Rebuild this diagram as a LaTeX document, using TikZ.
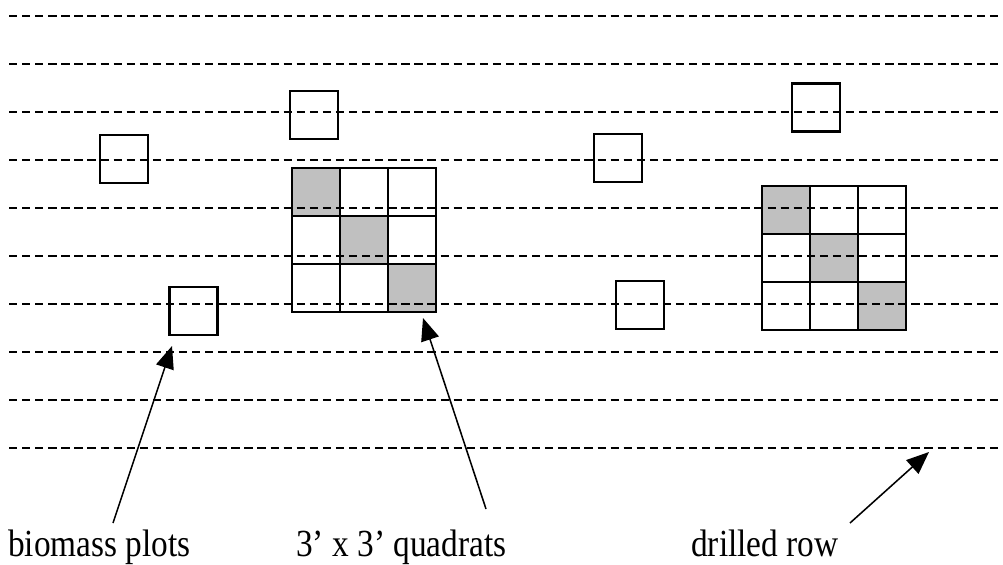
\documentclass[tikz,border=0pt]{standalone}
\usepackage{fontspec}
\setmainfont{Liberation Serif}
\usetikzlibrary{positioning, arrows.meta}
\definecolor{cellgray}{RGB}{192,192,192}

\begin{document}
\begin{tikzpicture}[x=0.025cm, y=-0.025cm,
    row/.style={line width=1.5pt, dash pattern=on 5.9pt off 3.4pt},
    plot/.style={draw, line width=1.5pt, minimum size=1.2cm, inner sep=0pt},
    cellbox/.style={line width=1.5pt},
    pointer/.style={line width=1.1pt, -{Triangle[length=16pt, width=13pt]}},
    caption/.style={font=\fontsize{23.7}{28}\selectfont, anchor=base west, inner sep=0pt}]
    \useasboundingbox (0,0) rectangle (1003,564);

    % Shaded cells of the quadrats
    \foreach \qx/\qy in {292/168, 762/186}
        \foreach \k in {0,1,2}
            \fill[cellgray] (\qx+\k*48, \qy+\k*48) rectangle ++(48,48);

    % Drilled rows
    \foreach \y in {16,64,...,448}
        \draw[row] (9,\y) -- (1000,\y);

    % Quadrats
    \foreach \qx/\qy in {292/168, 762/186}
        \foreach \i in {0,1,2}
            \foreach \j in {0,1,2}
                \draw[cellbox] (\qx+\i*48, \qy+\j*48) rectangle ++(48,48);

    % Biomass plots
    \node[plot] (plotA) at (124,159) {};
    \node[plot] (plotB) at (314,115) {};
    \node[plot] (plotC) at (193.5,311) {};
    \node[plot] (plotD) at (618,158) {};
    \node[plot] (plotE) at (816,107.5) {};
    \node[plot] (plotF) at (640,305) {};

    % Labels
    \node[caption] (plotsLabel) at (8,556) {\scalebox{1}[1.15]{biomass plots}};
    \node[caption] (quadLabel) at (296,556) {\scalebox{1}[1.15]{3’ x 3’ quadrats}};
    \node[caption] (rowLabel) at (691,556) {\scalebox{1}[1.15]{drilled row}};

    % Pointers
    \coordinate (plotsTail) at (113,523);
    \coordinate (plotsTip) at (172,346);
    \coordinate (quadTail) at (486,509);
    \coordinate (quadTip) at (423,318);
    \coordinate (rowTail) at (850,523);
    \coordinate (rowTip) at (929,452);
    \draw[pointer] (plotsTail) -- (plotsTip);
    \draw[pointer] (quadTail) -- (quadTip);
    \draw[pointer] (rowTail) -- (rowTip);
\end{tikzpicture}
\end{document}
